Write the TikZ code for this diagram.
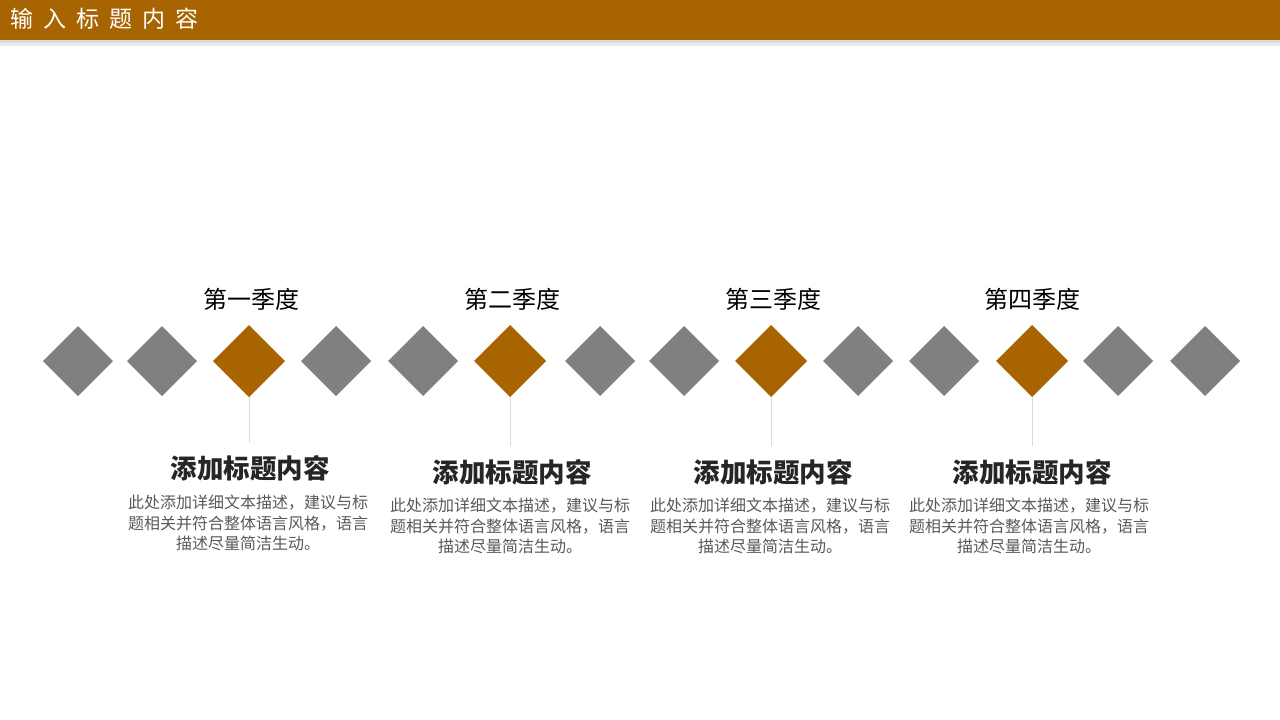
\documentclass[tikz,border=0pt]{standalone}
\usepackage{fontspec}
\setmainfont{Noto Sans CJK SC}
\newfontfamily\cjk{Noto Sans CJK SC}
\usetikzlibrary{shapes.geometric}
\definecolor{brownc}{RGB}{168,100,0}
\definecolor{grayd}{RGB}{128,128,128}
\definecolor{bodyc}{RGB}{89,89,89}
\definecolor{linec}{RGB}{217,217,217}
\tikzset{
  gd/.style={fill=grayd,draw=none},
  bd/.style={fill=brownc,draw=none},
  qlabel/.style={font=\cjk\fontsize{24}{28}\selectfont,text=black,inner sep=0pt},
  ttl/.style={font=\cjk\bfseries\fontsize{26.5}{30}\selectfont,text=black!85,inner sep=0pt},
  bodytxt/.style={font=\cjk\fontsize{16}{20.5}\selectfont,text=bodyc,align=center,inner sep=0pt},
  stem/.style={draw=linec,line width=0.8pt}
}
\newcommand{\diam}[4]{% name, x, half, style
  \path[#4] (#2-#3,361) -- (#2,361-#3) -- (#2+#3,361) -- (#2,361+#3) -- cycle;
  \coordinate (#1) at (#2,361+#3);
}
\begin{document}
\begin{tikzpicture}[x=1pt,y=-1pt]
\useasboundingbox (0,0) rectangle (1280,720);
\fill[white] (0,0) rectangle (1280,720);
% header shadow
\fill[black!14] (0,40) rectangle (1280,43);
\fill[black!7] (0,43) rectangle (1280,46);
\fill[brownc] (0,0) rectangle (1280,40);
\node[anchor=west,text=white,inner sep=0pt,font=\cjk\fontsize{23}{26}\selectfont] (hdr) at (10,19)
  {输\hspace{10pt}入\hspace{10pt}标\hspace{10pt}题\hspace{10pt}内\hspace{10pt}容};
% diamonds
\diam{d1}{78}{35}{gd}
\diam{d2}{162}{35}{gd}
\diam{d3}{249}{36}{bd}
\diam{d4}{336}{35}{gd}
\diam{d5}{423}{35}{gd}
\diam{d6}{510}{36}{bd}
\diam{d7}{600}{35}{gd}
\diam{d8}{684}{35}{gd}
\diam{d9}{771}{36}{bd}
\diam{d10}{858}{35}{gd}
\diam{d11}{944}{35}{gd}
\diam{d12}{1032}{36}{bd}
\diam{d13}{1118}{35}{gd}
\diam{d14}{1205}{35}{gd}
% stems
\coordinate (e3) at (249,443);
\coordinate (e6) at (510,446);
\coordinate (e9) at (771,446);
\coordinate (e12) at (1032,446);
\draw[stem] (d3) -- (e3);
\draw[stem] (d6) -- (e6);
\draw[stem] (d9) -- (e9);
\draw[stem] (d12) -- (e12);
% quarter labels
\node[qlabel] (q1) at (251,299) {第一季度};
\node[qlabel] (q2) at (512,299) {第二季度};
\node[qlabel] (q3) at (773,299) {第三季度};
\node[qlabel] (q4) at (1032,299) {第四季度};
% titles
\node[ttl] (t1) at (250,468) {添加标题内容};
\node[ttl] (t2) at (512,472) {添加标题内容};
\node[ttl] (t3) at (773,472) {添加标题内容};
\node[ttl] (t4) at (1032,472) {添加标题内容};
% body
\node[bodytxt] (b1) at (248,523) {此处添加详细文本描述，建议与标\\题相关并符合整体语言风格，语言\\描述尽量简洁生动。};
\node[bodytxt] (b2) at (510,526) {此处添加详细文本描述，建议与标\\题相关并符合整体语言风格，语言\\描述尽量简洁生动。};
\node[bodytxt] (b3) at (770,526) {此处添加详细文本描述，建议与标\\题相关并符合整体语言风格，语言\\描述尽量简洁生动。};
\node[bodytxt] (b4) at (1029,526) {此处添加详细文本描述，建议与标\\题相关并符合整体语言风格，语言\\描述尽量简洁生动。};
\end{tikzpicture}
\end{document}
